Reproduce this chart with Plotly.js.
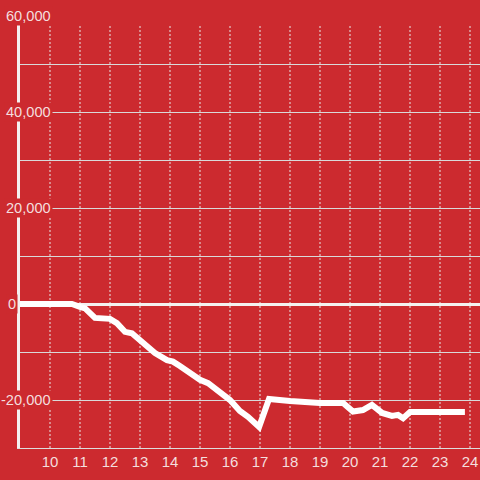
<!DOCTYPE html>
<html>
<head>
<meta charset="utf-8">
<script src="https://cdn.plot.ly/plotly-3.0.1.min.js"></script>
<style>html,body{margin:0;padding:0;background:#cc2a2f;}#chart{width:480px;height:480px;}</style>
</head>
<body>
<div id="chart"></div>
<script>
// Data
var hours = [9, 10.73, 11.0, 11.17, 11.5, 12.0, 12.23, 12.5, 12.73, 13.0, 13.23, 13.5, 13.9, 14.1, 14.33, 14.73, 15.0, 15.27, 15.67, 16.0, 16.33, 16.6, 16.97, 17.3, 18.0, 18.57, 19.0, 19.77, 20.1, 20.43, 20.73, 21.07, 21.4, 21.6, 21.77, 22.0, 23.83];
var values = [0, 0, -600, -900, -2900, -3100, -4000, -5800, -6100, -7500, -8500, -10200, -11700, -12000, -12900, -14800, -15800, -16500, -18500, -20000, -22300, -23500, -25600, -19800, -20200, -20600, -20600, -20600, -22400, -22100, -21000, -22700, -23300, -23100, -23800, -22500, -22500];
var xTicks = [10, 11, 12, 13, 14, 15, 16, 17, 18, 19, 20, 21, 22, 23, 24];
var yLabelValues = [60000, 40000, 20000, 0, -20000];
var yLabelTexts = ["60,000", "40,000", "20,000", "0", "-20,000"];

var RED = '#cc2a2f';
var TXT = '#f4dede';
var FONT = 'Liberation Sans, Arial, sans-serif';

var shapes = xTicks.map(function (t) {
  return {type: 'line', xref: 'x', yref: 'paper', x0: t, x1: t, y0: 0, y1: 0.9815,
    line: {color: '#e8e8e8', width: 1, dash: '2px,2px'}, layer: 'below'};
});

var annotations = yLabelValues.map(function (v, i) {
  var isZero = v === 0;
  return {xref: 'paper', yref: 'y', x: isZero ? -0.004 : 0.071, y: v,
    xanchor: 'right', yanchor: 'middle', text: yLabelTexts[i], showarrow: false,
    font: {family: FONT, size: 14.6, color: TXT}, bgcolor: RED, borderpad: 1};
});

var trace = {x: hours, y: values, type: 'scatter', mode: 'lines',
  line: {color: '#ffffff', width: 6}, hoverinfo: 'none'};

var layout = {
  width: 480, height: 480,
  margin: {l: 20, r: 0, t: 16, b: 32, pad: 0},
  paper_bgcolor: RED, plot_bgcolor: RED,
  showlegend: false,
  font: {family: FONT, size: 15, color: TXT},
  xaxis: {range: [9, 24.333], tickvals: xTicks, ticktext: xTicks.map(String),
    showgrid: false, zeroline: false, showline: true, linecolor: '#dddddd', linewidth: 1,
    ticks: '', tickfont: {family: FONT, size: 15, color: TXT}},
  yaxis: {range: [-30000, 60000], dtick: 10000, tick0: 0, showticklabels: false,
    showgrid: true, gridcolor: '#d9d9d9', gridwidth: 1,
    zeroline: true, zerolinecolor: '#f4f0f0', zerolinewidth: 3,
    showline: true, linecolor: '#f4f0f0', linewidth: 3, ticks: ''},
  shapes: shapes,
  annotations: annotations
};

Plotly.newPlot('chart', [trace], layout, {staticPlot: true, displayModeBar: false});
</script>
</body>
</html>
